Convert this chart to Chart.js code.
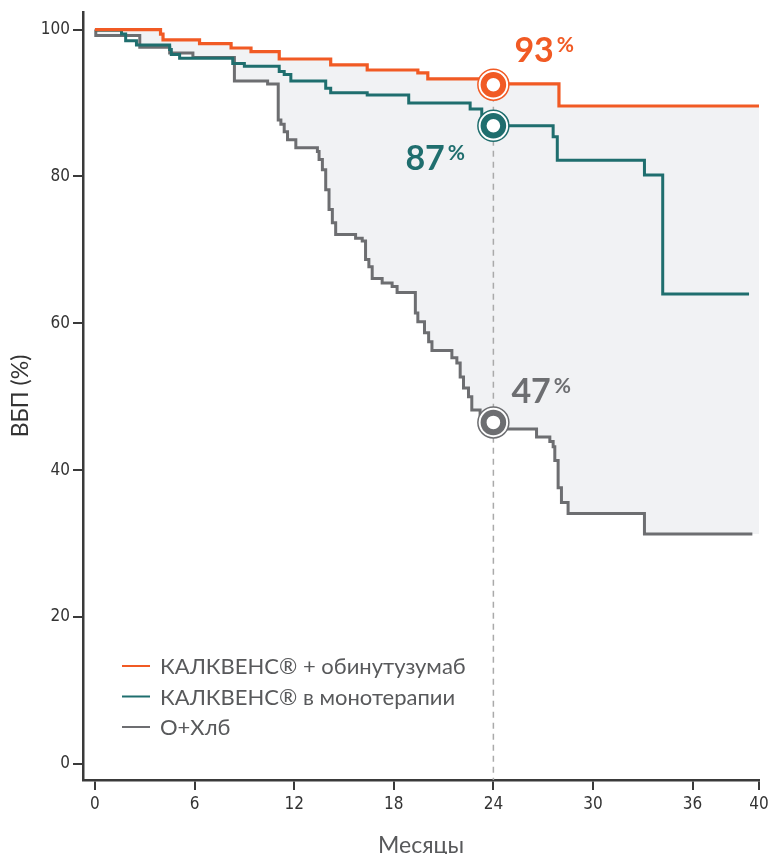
<!DOCTYPE html>
<html><head><meta charset="utf-8">
<script src="https://cdn.jsdelivr.net/npm/chart.js@4.4.1/dist/chart.umd.min.js"></script>
<style>html,body{margin:0;padding:0;background:#fff}</style>
</head><body>
<canvas id="c" width="770" height="854"></canvas>
<script>
// названия групп
const seriesNames=['КАЛКВЕНС® + обинутузумаб','КАЛКВЕНС® в монотерапии','О+Хлб'];
const seriesColors=['#f15a24','#1f6e6e','#6d6e71'];

// КАЛКВЕНС + обинутузумаб
const acoMonths=[0,3.95,4.1,6.3,8.2,9.4,11.1,14.2,16.4,19.45,20.05,23.6,27.95,40];
const acoValues=[100,99.4,98.6,98.1,97.5,97.0,96.0,95.2,94.5,94.1,93.3,92.6,89.6,89.6];

// КАЛКВЕНС монотерапия
const acMonths=[0,1.6,1.85,2.5,4.5,4.6,5.1,8.3,9.0,11.1,11.4,11.8,13.9,14.2,16.4,18.9,22.6,23.3,23.8,27.6,27.85,33.1,34.2,39.4];
const acValues=[99.9,99.4,98.5,97.9,97.3,96.6,96.1,95.4,95.0,94.3,93.9,93.0,92.0,91.4,91.1,90.0,89.2,88.3,86.9,85.4,82.2,80.2,64.0,64.0];

// О+Хлб
const ocMonths=[0,0.05,2.7,4.5,5.9,8.4,10.4,11.04,11.2,11.4,11.6,12.1,13.4,13.5,13.7,13.9,14.1,14.3,14.5,15.7,16.1,16.3,16.5,16.7,17.3,17.9,18.2,19.3,19.45,19.85,20.1,20.3,21.5,21.8,22.0,22.2,22.5,22.7,23.2,23.8,24.3,26.6,27.4,27.6,27.7,27.9,28.1,28.5,33.1,39.6];
const ocValues=[100,99.2,97.6,96.8,96.2,93.0,92.6,87.7,87.1,86.1,85.0,83.9,83.4,82.3,80.9,78.2,75.5,73.7,72.1,71.6,71.2,68.7,67.7,66.1,65.5,65.0,64.2,61.4,60.2,58.7,57.5,56.3,55.3,54.6,52.7,51.2,50.0,48.2,47.6,46.5,45.6,44.5,43.9,43.2,41.3,37.6,35.6,34.1,31.3,31.3];

// отметки на 24 месяце
const markerMonth=24;
const markerValues=[92.5,86.9,46.5];
const markerLabels=['93','87','47'];

const xTicks=[0,6,12,18,24,30,36,40];
const yTicks=[0,20,40,60,80,100];

function pts(xs,ys){return xs.map((x,i)=>({x:x,y:ys[i]}));}

const fillPts=pts(ocMonths,ocValues).concat([{x:40,y:ocValues[ocValues.length-1]}]);

const tickFont={family:'"Liberation Sans Narrow","DejaVu Sans Condensed",sans-serif',size:17};

// подписи процентов и легенда
const labelPlugin={
  id:'labels',
  afterDatasetsDraw(chart){
    const ctx=chart.ctx;
    const xs=chart.scales.x, ys=chart.scales.y;
    const offs=[[21,-23],[-88,44],[18,-19]];
    ctx.save();
    markerValues.forEach((v,i)=>{
      const px=xs.getPixelForValue(markerMonth)+offs[i][0];
      const py=ys.getPixelForValue(v)+offs[i][1];
      ctx.fillStyle=seriesColors[i];
      ctx.textBaseline='alphabetic';
      ctx.textAlign='left';
      ctx.font='bold 34px Lato, sans-serif';
      ctx.fillText(markerLabels[i],px,py);
      const w=ctx.measureText(markerLabels[i]).width;
      ctx.font='bold 21px Lato, sans-serif';
      ctx.fillText('%',px+w+3,py-10);
    });
    // легенда
    ctx.font='22px Lato, sans-serif';
    ctx.textBaseline='middle';
    seriesNames.forEach((n,i)=>{
      const y=666+i*30.5;
      ctx.strokeStyle=seriesColors[i];
      ctx.lineWidth=2;
      ctx.beginPath();ctx.moveTo(122,y);ctx.lineTo(150,y);ctx.stroke();
      ctx.fillStyle='#58595b';
      ctx.fillText(n,160,y+1);
    });
    ctx.restore();
  }
};

function line(label,data,color,w,order){
  return {label:label,data:data,borderColor:color,borderWidth:w,stepped:true,pointRadius:0,fill:false,order:order};
}

const datasets=[
  line(seriesNames[0],pts(acoMonths,acoValues),seriesColors[0],3.2,3),
  line(seriesNames[1],pts(acMonths,acValues),seriesColors[1],3,4),
  line(seriesNames[2],pts(ocMonths,ocValues),seriesColors[2],3,5),
  {label:'fill',data:fillPts,borderWidth:0,stepped:true,pointRadius:0,fill:0,backgroundColor:'#f1f2f4',order:10},
  {label:'dash',data:[{x:markerMonth,y:markerValues[0]},{x:markerMonth,y:-2.2}],borderColor:'#aaaaaa',borderWidth:1.5,borderDash:[6,5],pointRadius:0,fill:false,order:6},
  {type:'scatter',label:'outer',data:markerValues.map(v=>({x:markerMonth,y:v})),pointRadius:15.5,pointBorderWidth:1.5,pointBorderColor:seriesColors,pointBackgroundColor:'#fff',order:2},
  {type:'scatter',label:'inner',data:markerValues.map(v=>({x:markerMonth,y:v})),pointRadius:9.8,pointBorderWidth:6,pointBorderColor:seriesColors,pointBackgroundColor:'#fff',order:1}
];

new Chart(document.getElementById('c'),{
  type:'line',
  data:{datasets:datasets},
  plugins:[labelPlugin],
  options:{
    responsive:false,
    animation:false,
    layout:{autoPadding:false,padding:{top:12,right:11,left:0,bottom:0}},
    plugins:{legend:{display:false},tooltip:{enabled:false}},
    scales:{
      x:{
        type:'linear',min:-0.72,max:40,
        afterBuildTicks(s){s.ticks=xTicks.map(v=>({value:v}));},
        afterFit(s){s.height=74;s.paddingLeft=0;s.paddingRight=0;},
        grid:{drawOnChartArea:false,drawTicks:true,tickLength:10,color:'#3a3a3a',lineWidth:2},
        border:{display:true,color:'#3a3a3a',width:2.5},
        ticks:{font:tickFont,color:'#333',padding:4,maxRotation:0,autoSkip:false},
        title:{display:true,text:'Месяцы',font:{family:'Lato, sans-serif',size:23},color:'#58595b',padding:{top:4,bottom:-5}}
      },
      y:{
        type:'linear',min:-2.2,max:102.4,
        afterBuildTicks(s){s.ticks=yTicks.map(v=>({value:v}));},
        afterFit(s){s.width=83;s.paddingTop=0;s.paddingBottom=0;},
        grid:{drawOnChartArea:false,drawTicks:true,tickLength:10,color:'#3a3a3a',lineWidth:2},
        border:{display:true,color:'#3a3a3a',width:2.5},
        ticks:{font:tickFont,color:'#333',padding:3,autoSkip:false},
        title:{display:true,text:'ВБП (%)',font:{family:'Lato, sans-serif',size:23},color:'#333',padding:{top:7,bottom:0}}
      }
    }
  }
});
</script>
</body></html>
